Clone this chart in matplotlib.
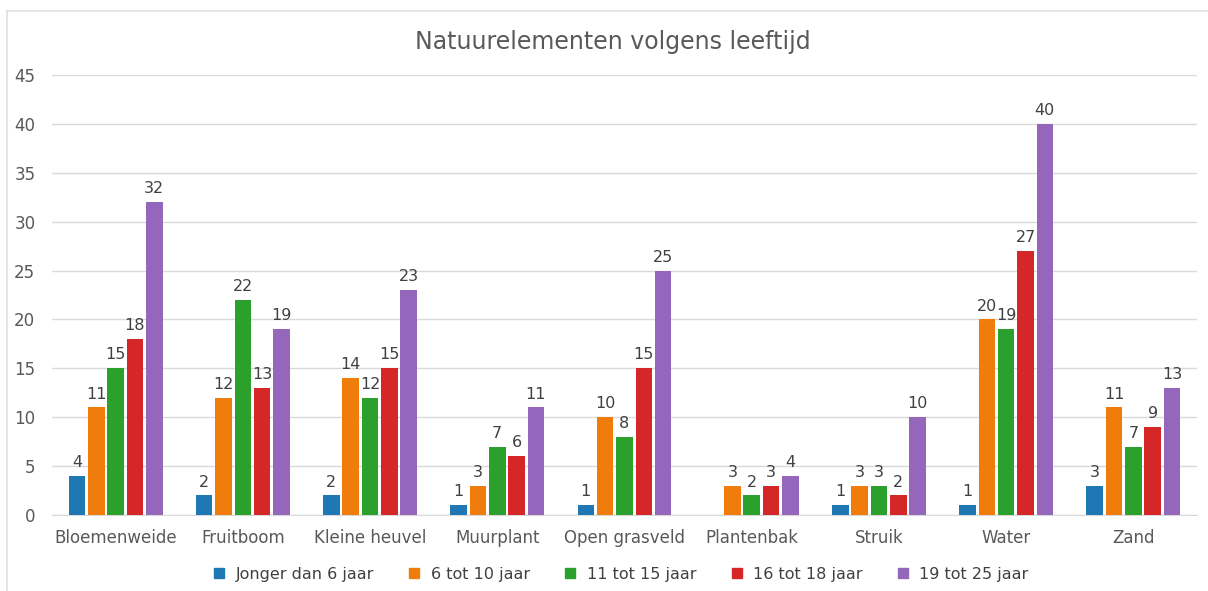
import numpy as np
import matplotlib.pyplot as plt
from matplotlib.lines import Line2D

categories = ['Bloemenweide', 'Fruitboom', 'Kleine heuvel', 'Muurplant', 'Open grasveld',
              'Plantenbak', 'Struik', 'Water', 'Zand']
series_names = ['Jonger dan 6 jaar', '6 tot 10 jaar', '11 tot 15 jaar', '16 tot 18 jaar', '19 tot 25 jaar']
jonger_6 = [4, 2, 2, 1, 1, 0, 1, 1, 3]
tot_10 = [11, 12, 14, 3, 10, 3, 3, 20, 11]
tot_15 = [15, 22, 12, 7, 8, 2, 3, 19, 7]
tot_18 = [18, 13, 15, 6, 15, 3, 2, 27, 9]
tot_25 = [32, 19, 23, 11, 25, 4, 10, 40, 13]
colors = ['#1f77b4', '#f07c0c', '#2ca02c', '#d62728', '#9467bd']

series = [jonger_6, tot_10, tot_15, tot_18, tot_25]

fig = plt.figure(figsize=(12.08, 5.91), dpi=100)
ax = fig.add_axes([52 / 1208, 1 - 515 / 591, (1197 - 52) / 1208, (515 - 75) / 591])

x = np.arange(len(categories))
pitch = 0.152
width = 0.13
for i, (vals, col) in enumerate(zip(series, colors)):
    pos = x + (i - 2) * pitch
    ax.bar(pos, vals, width, color=col, label=series_names[i], zorder=3)
    for p, v in zip(pos, vals):
        if v > 0:
            ax.text(p, v + 0.6, str(v), ha='center', va='bottom', fontsize=11.5, color='#404040')

ax.set_xlim(-0.5, len(categories) - 0.5)
ax.set_ylim(0, 45)
ax.set_yticks(range(0, 46, 5))
ax.set_xticks(x)
ax.set_xticklabels(categories)
ax.grid(axis='y', color='#d9d9d9', linewidth=1, zorder=0)
for s in ['top', 'right', 'left']:
    ax.spines[s].set_visible(False)
ax.spines['bottom'].set_color('#d9d9d9')
ax.tick_params(axis='both', length=0, labelsize=12, colors='#595959')
ax.tick_params(axis='x', pad=10)
ax.tick_params(axis='y', pad=12)

fig.text(0.507, 1 - 42 / 591, 'Natuurelementen volgens leeftijd', ha='center', va='center',
         fontsize=17, color='#595959')

handles = [Line2D([], [], marker='s', linestyle='none', markersize=7, color=c) for c in colors]
fig.legend(handles, series_names, loc='center', bbox_to_anchor=(0.51, 1 - 574 / 591), ncol=5,
           frameon=False, fontsize=11.5, handletextpad=0.05, columnspacing=1.5, labelcolor='#404040')

# light frame at the top and left, as in the original screenshot
fig.add_artist(Line2D([7 / 1208, 1], [1 - 11 / 591, 1 - 11 / 591], color='#e0e0e0', linewidth=1.2))
fig.add_artist(Line2D([7 / 1208, 7 / 1208], [0, 1 - 11 / 591], color='#e0e0e0', linewidth=1.2))

fig.savefig('out.png', dpi=100)
